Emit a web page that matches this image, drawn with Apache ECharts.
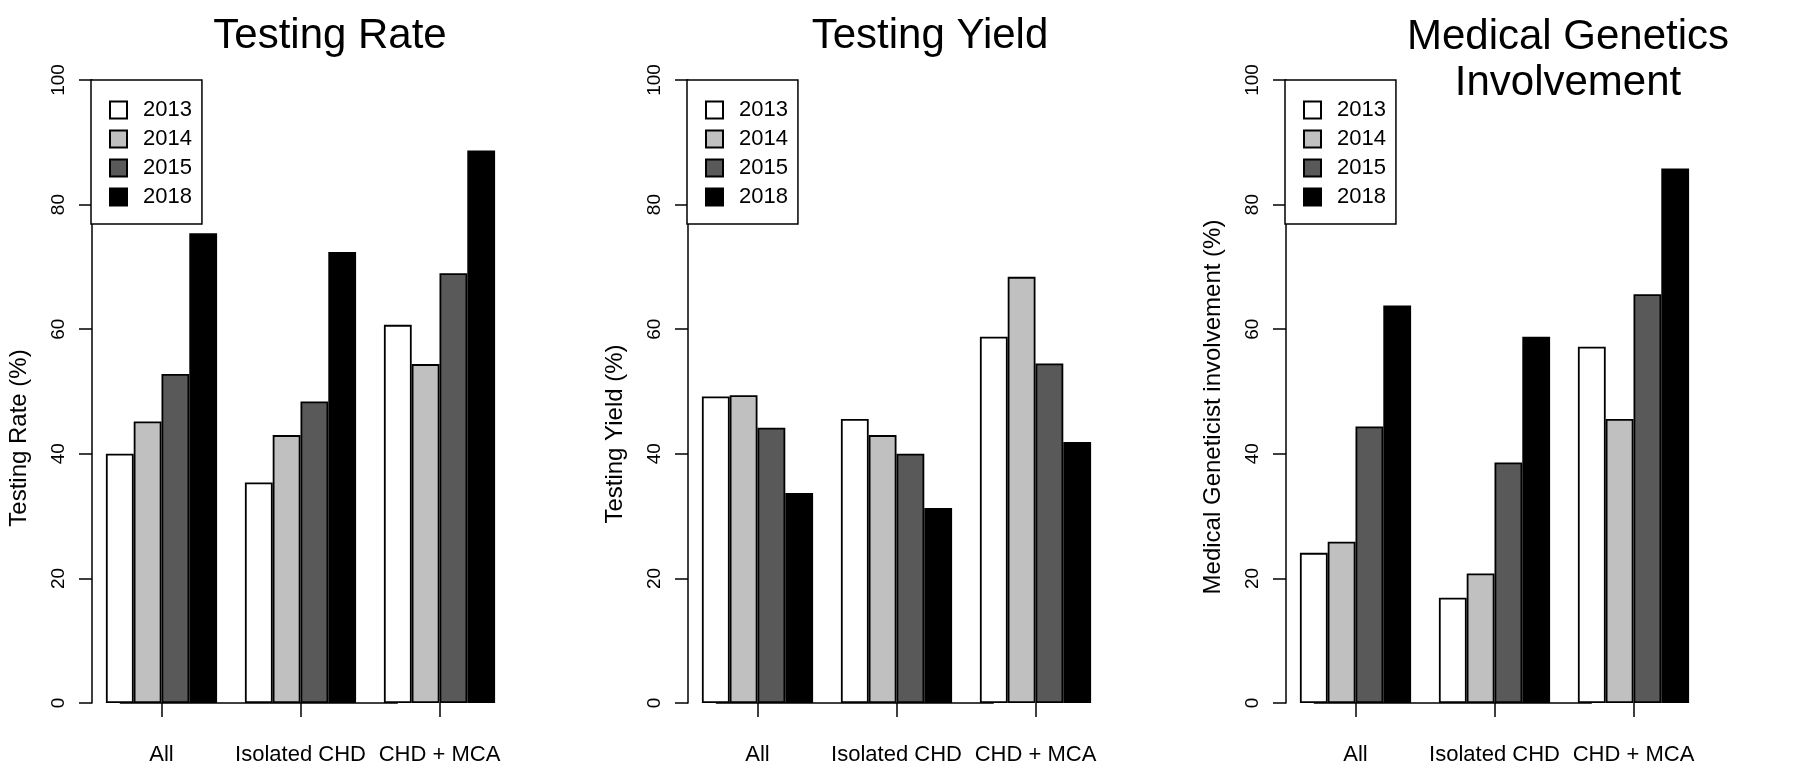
<!DOCTYPE html>
<html>
<head>
<meta charset="utf-8">
<style>
  html, body { margin: 0; padding: 0; background: #fff; }
  #chart { width: 1800px; height: 769px; }
</style>
<script src="https://cdn.jsdelivr.net/npm/echarts@6/dist/echarts.min.js"></script>
</head>
<body>
<div id="chart"></div>
<script>
// categories and legend years
const categories = ['All', 'Isolated CHD', 'CHD + MCA'];
const years = ['2013', '2014', '2015', '2018'];
const yMin = 0, yMax = 100, yStep = 20;

// one row per year, values per category (%)
const testingRate = [
  [40.0, 35.4, 60.7],
  [45.2, 43.0, 54.4],
  [52.8, 48.4, 69.0],
  [75.4, 72.4, 88.7]
];
const testingYield = [
  [49.2, 45.6, 58.8],
  [49.4, 43.0, 68.4],
  [44.2, 40.0, 54.5],
  [33.7, 31.3, 41.9]
];
const geneticsInvolvement = [
  [24.1, 16.9, 57.2],
  [25.9, 20.8, 45.6],
  [44.4, 38.6, 65.6],
  [63.8, 58.8, 85.8]
];

const titles = ['Testing Rate', 'Testing Yield', 'Medical Genetics\nInvolvement'];
const yNames = ['Testing Rate (%)', 'Testing Yield (%)', 'Medical Geneticist involvement (%)'];
const panelData = [testingRate, testingYield, geneticsInvolvement];

// layout of the three panels
const gridLeft = [92, 688, 1286];
const gridWidth = 417;
const titleX = [325, 925, 1563];
const namePad = [93, 85, 31]; // pushes each axis title a bit below the axis middle
const barColors = ['#ffffff', '#c0c0c0', '#595959', '#000000'];
const font = 'Liberation Sans, Arial, sans-serif';

const chart = echarts.init(document.getElementById('chart'));

const grid = [], xAxis = [], yAxis = [], title = [], legend = [], series = [];

panelData.forEach((rows, p) => {
  grid.push({ left: gridLeft[p], width: gridWidth, top: 80, bottom: 66 });

  title.push({
    text: titles[p],
    left: titleX[p],
    top: p === 2 ? 9 : 8,
    textAlign: 'center',
    textStyle: { fontFamily: font, fontSize: 42, fontWeight: 'normal', color: '#000', lineHeight: 46 }
  });

  xAxis.push({
    type: 'category',
    gridIndex: p,
    data: categories,
    axisLine: { show: false },
    axisTick: { show: true, alignWithLabel: true, length: 14, lineStyle: { color: '#000', width: 1.5 } },
    axisLabel: { interval: 0, fontFamily: font, fontSize: 22, color: '#000', margin: 41 }
  });

  yAxis.push({
    type: 'value',
    gridIndex: p,
    min: yMin,
    max: yMax,
    interval: yStep,
    splitLine: { show: false },
    axisLine: { show: true, lineStyle: { color: '#000', width: 1.5 } },
    axisTick: { show: true, length: 13, lineStyle: { color: '#000', width: 1.5 } },
    axisLabel: { fontFamily: font, fontSize: 19, color: '#000', rotate: 90, margin: 24 },
    name: yNames[p],
    nameLocation: 'middle',
    nameRotate: 90,
    nameGap: 61,
    nameTextStyle: { fontFamily: font, fontSize: 24, color: '#000', padding: [0, namePad[p], 0, 0] }
  });

  legend.push({
    data: years,
    orient: 'vertical',
    left: gridLeft[p] - 1,
    top: 80,
    padding: [19, 10, 16, 18],
    itemWidth: 17,
    itemHeight: 17,
    itemGap: 7,
    backgroundColor: '#fff',
    borderColor: '#000',
    borderWidth: 1.5,
    borderRadius: 0,
    icon: 'rect',
    textStyle: { fontFamily: font, fontSize: 22, color: '#000', padding: [0, 0, 0, 11] }
  });

  rows.forEach((vals, i) => {
    const s = {
      name: years[i],
      type: 'bar',
      xAxisIndex: p,
      yAxisIndex: p,
      data: vals,
      barGap: '0%',
      barCategoryGap: '20%',
      itemStyle: { color: barColors[i], borderColor: '#000', borderWidth: 1.8 }
    };
    // R-style axis line from the first to the last category tick
    if (i === 0) {
      s.markLine = {
        silent: true,
        symbol: 'none',
        label: { show: false },
        lineStyle: { color: '#000', width: 1.5, type: 'solid' },
        data: [[{ coord: [categories[0], yMin] }, { coord: [categories[categories.length - 1], yMin] }]]
      };
    }
    series.push(s);
  });
});

chart.setOption({
  animation: false,
  backgroundColor: '#fff',
  title: title,
  legend: legend,
  grid: grid,
  xAxis: xAxis,
  yAxis: yAxis,
  series: series
});
</script>
</body>
</html>
